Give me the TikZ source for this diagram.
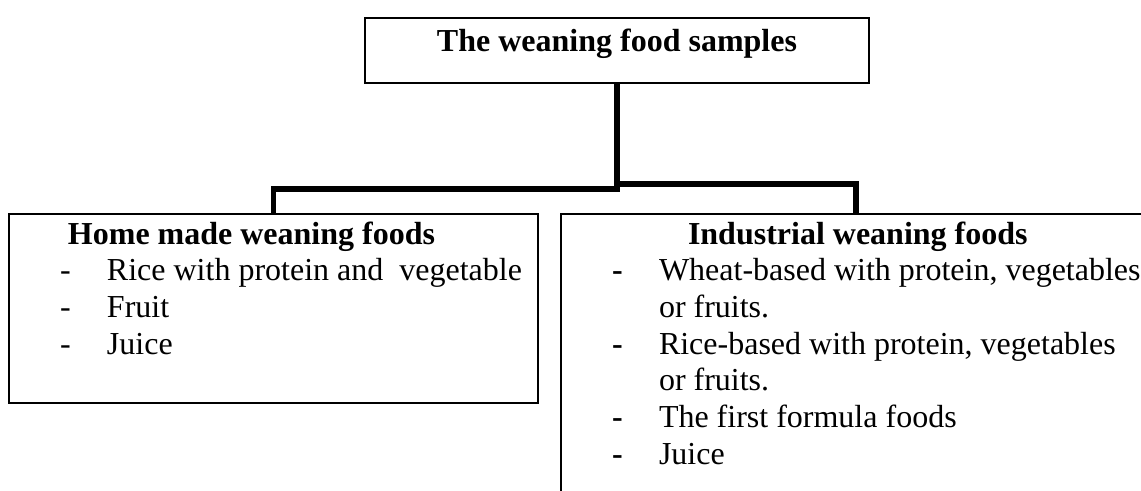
\documentclass[tikz,border=0pt]{standalone}
\usepackage{fontspec}
\setmainfont{Liberation Serif}
\usepackage{tikz}
\usetikzlibrary{positioning}

\newcommand{\wfitem}[2]{\hspace*{25.5pt}\makebox[23.5pt][l]{#1}#2}
\newcommand{\wfmore}[1]{\newline\hspace*{49pt}#1}

\begin{document}
\begin{tikzpicture}[
  x=0.5pt, y=-0.5pt,
  titlebox/.style={draw, line width=1.1pt, inner sep=0pt, minimum width=252pt,
                   text height=16.5pt, text depth=16pt,
                   font=\fontsize{16}{18.35}\selectfont\bfseries},
  listbox/.style={draw, line width=1.1pt, inner sep=0pt, anchor=north},
  link/.style={line width=2.8pt}
]
  \clip (0,0) rectangle (1141,491);

  \node[titlebox, anchor=north] (samples) at (617,17) {The weaning food samples};

  \node[listbox] (home) at (273.5,213) {\parbox[t][94.5pt][t]{264.5pt}{%
    \fontsize{16}{18.35}\selectfont
    \rule{0pt}{15pt}\hspace*{29.5pt}\textbf{Home made weaning foods}\par
    \wfitem{-}{Rice with protein and\ \ vegetable}\par
    \wfitem{-}{Fruit}\par
    \wfitem{-}{Juice}}};

  \node[listbox] (industrial) at (856,213) {\parbox[t][150pt][t]{295pt}{%
    \fontsize{16}{18.35}\selectfont
    \rule{0pt}{15pt}\hspace*{63.5pt}\textbf{Industrial weaning foods}\par
    \wfitem{\textbf{-}}{Wheat-based with protein, vegetables}\wfmore{or fruits.}\par
    \wfitem{\textbf{-}}{Rice-based with protein, vegetables}\wfmore{or fruits.}\par
    \wfitem{\textbf{-}}{The first formula foods}\par
    \wfitem{\textbf{-}}{Juice}}};

  \coordinate (forkL) at (617,189);
  \coordinate (forkR) at (617,184);
  \draw[link] (samples.south) -- (forkL) -| (home.north);
  \draw[link] (forkR) -| (industrial.north);
\end{tikzpicture}
\end{document}
